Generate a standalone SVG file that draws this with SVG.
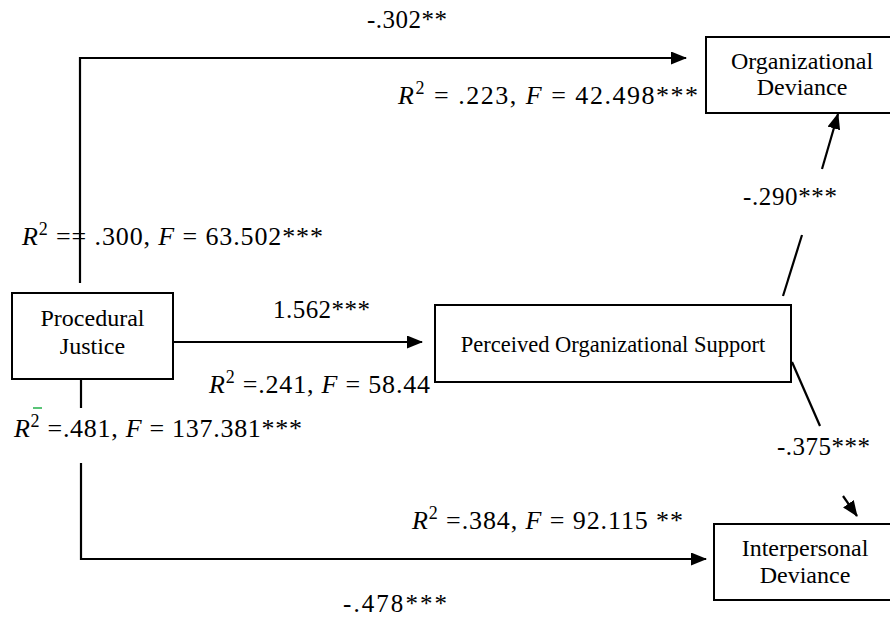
<svg xmlns="http://www.w3.org/2000/svg" width="890" height="617" viewBox="0 0 890 617">
<style>
  .box { fill: #ffffff; stroke: #000000; stroke-width: 2; }
  .ln { fill: none; stroke: #000000; stroke-width: 2.2; }
  .arr { marker-end: url(#ah); }
  text { font-family: "Liberation Serif", "Times New Roman", serif; fill: #000000; }
  .nt { font-size: 24px; text-anchor: middle; }
  .lb { font-size: 25px; }
  .mt { font-size: 26px; }
  .mi { font-style: italic; }
  .sup { font-size: 18px; }
</style>
<defs>
  <marker id="ah" viewBox="0 0 16 13" refX="15" refY="6.5" markerWidth="16" markerHeight="13" markerUnits="userSpaceOnUse" orient="auto">
    <path d="M0,0 L16,6.5 L0,13 z" fill="#000000"/>
  </marker>
</defs>
<rect width="890" height="617" fill="#ffffff"/>

<g id="connectors">
  <path class="ln arr" d="M80,283 L80,58 L686,58"/>
  <path class="ln arr" d="M173,342 L422,342"/>
  <path class="ln" d="M81,379 L81,408"/>
  <path class="ln arr" d="M81,463 L81,559 L706,559"/>
  <path class="ln" d="M783,296 L802,235"/>
  <path class="ln arr" d="M822,169 L838,114"/>
  <path class="ln" d="M792,362 L820,426"/>
  <path class="ln arr" d="M843,496 L857,516"/>
  <path d="M33,408 L42,408" stroke="#22b04a" stroke-width="1.5"/>
</g>

<g id="procedural-justice">
  <rect class="box" x="12" y="293" width="161" height="86"/>
  <text class="nt" x="92.5" y="326">Procedural</text>
  <text class="nt" x="92.5" y="354">Justice</text>
</g>

<g id="perceived-organizational-support">
  <rect class="box" x="435" y="305" width="356" height="77"/>
  <text class="nt" x="613" y="352" style="font-size:22.5px">Perceived Organizational Support</text>
</g>

<g id="organizational-deviance">
  <rect class="box" x="706" y="37" width="200" height="76"/>
  <text class="nt" x="802" y="69">Organizational</text>
  <text class="nt" x="802" y="95">Deviance</text>
</g>

<g id="interpersonal-deviance">
  <rect class="box" x="714" y="524" width="200" height="76"/>
  <text class="nt" x="805" y="556">Interpersonal</text>
  <text class="nt" x="805" y="583">Deviance</text>
</g>

<g id="labels">
  <text class="lb" x="367" y="28" textLength="80">-.302**</text>
  <text class="mt" x="398" y="104" textLength="300"><tspan class="mi">R</tspan><tspan class="sup" dy="-10">2</tspan><tspan dy="10"> =  .223, </tspan><tspan class="mi">F</tspan> = 42.498***</text>
  <text class="mt" x="22" y="245" textLength="301"><tspan class="mi">R</tspan><tspan class="sup" dy="-10">2</tspan><tspan dy="10"> == .300,  </tspan><tspan class="mi">F</tspan> = 63.502***</text>
  <text class="lb" x="743" y="205" textLength="94">-.290***</text>
  <text class="lb" x="273" y="318" textLength="97">1.562***</text>
  <text class="mt" x="209" y="393" textLength="221"><tspan class="mi">R</tspan><tspan class="sup" dy="-10">2</tspan><tspan dy="10"> =.241, </tspan><tspan class="mi">F</tspan> = 58.44</text>
  <text class="mt" x="14" y="437" textLength="288"><tspan class="mi">R</tspan><tspan class="sup" dy="-10">2</tspan><tspan dy="10"> =.481, </tspan><tspan class="mi">F</tspan> = 137.381***</text>
  <text class="lb" x="777" y="455" textLength="93">-.375***</text>
  <text class="mt" x="412" y="529" textLength="271"><tspan class="mi">R</tspan><tspan class="sup" dy="-10">2</tspan><tspan dy="10"> =.384, </tspan><tspan class="mi">F</tspan> = 92.115 **</text>
  <text class="lb" x="343" y="612" textLength="104">-.478***</text>
</g>
</svg>
